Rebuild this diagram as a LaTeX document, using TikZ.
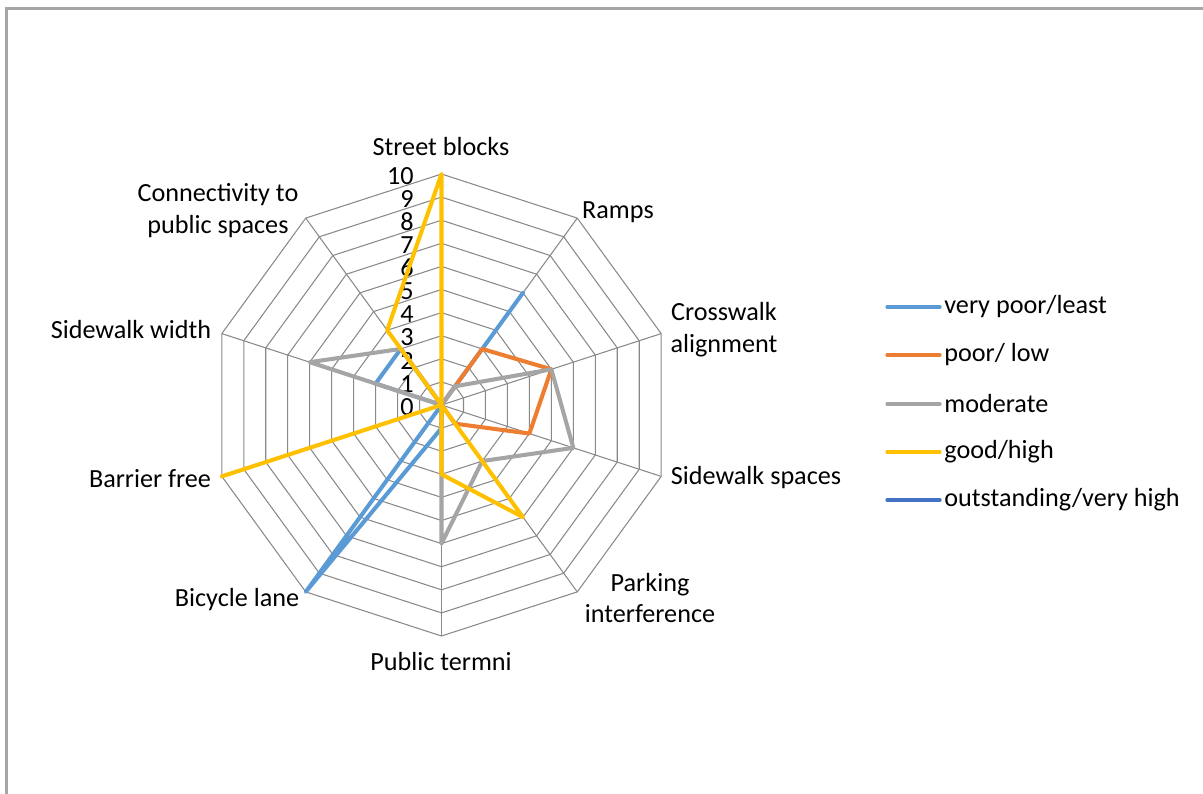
\documentclass[tikz,border=0pt]{standalone}
\usepackage{fontspec}
\setmainfont{Carlito}
\usepackage{xcolor}
\usepackage{tikz}
\usetikzlibrary{calc}
\definecolor{gridgray}{HTML}{898989}
\definecolor{framegray}{HTML}{A6A6A6}
\definecolor{vpoor}{HTML}{5B9BD5}
\definecolor{poor}{HTML}{ED7D31}
\definecolor{moderate}{HTML}{A5A5A5}
\definecolor{good}{HTML}{FFC000}
\definecolor{outstanding}{HTML}{4472C4}
\tikzset{
  gridline/.style={draw=gridgray, line width=0.6pt},
  series/.style={line width=2.3pt, line join=round, line cap=round},
  legline/.style={line width=1.8pt, line cap=round},
  lab/.style={font=\fontsize{14.9}{18.2}\selectfont, align=center, inner sep=0pt},
  tick/.style={font=\fontsize{14.9}{18.2}\selectfont, anchor=east, inner sep=0pt,
    text height=9.4pt, text depth=0pt},
  legtext/.style={font=\fontsize{14.9}{18.2}\selectfont, anchor=west, inner sep=0pt},
}

\begin{document}
\begin{tikzpicture}[x=0.02cm, y=-0.02cm]
\fill[white] (0,0) rectangle (1203,794);
\useasboundingbox (0,0) rectangle (1203,794);
\draw[framegray, line width=1.2pt] (6.5,794) -- (6.5,8.5) -- (1203,8.5);

% spokes and rings
\coordinate (c) at (441.5,405);
\foreach \i in {0,...,9}
  \coordinate (a\i) at ($(c)+(36*\i-90:231)$);
\foreach \i in {0,...,9}
  \draw[gridline] (c) -- (a\i);
\foreach \r in {1,...,10}
  \draw[gridline] ($(c)!\r/10!(a0)$) \foreach \i in {1,...,9}{ -- ($(c)!\r/10!(a\i)$) } -- cycle;

% scale
\foreach \k in {0,...,10}
  \node[tick] (t\k) at ($(414,407)+(0,-23.1*\k)$) {\k};

% axis labels
\node[lab] (sb)  at (441,147) {Street blocks};
\node[lab] (rmp) at (618,212) {Ramps};
\node[lab] (cwa) at (724,330) {Crosswalk\\alignment};
\node[lab] (sws) at (756,478) {Sidewalk spaces};
\node[lab] (pki) at (650,598) {Parking\\interference};
\node[lab] (ptr) at (441,661) {Public termni};
\node[lab] (bcl) at (237,600) {Bicycle lane};
\node[lab] (bfr) at (150,479) {Barrier free};
\node[lab] (swd) at (131,330) {Sidewalk width};
\node[lab] (cps) at (218,211) {Connectivity to\\public spaces};

% data
\draw[series, vpoor] ($(c)!0!(a0)$) -- ($(c)!.6!(a1)$) -- ($(c)!0!(a2)$) -- ($(c)!0!(a3)$) -- ($(c)!0!(a4)$)
  -- ($(c)!.1!(a5)$) -- ($(c)!1!(a6)$) -- ($(c)!0!(a7)$) -- ($(c)!.3!(a8)$) -- ($(c)!.3!(a9)$) -- cycle;
\draw[series, poor] ($(c)!0!(a0)$) -- ($(c)!.3!(a1)$) -- ($(c)!.5!(a2)$) -- ($(c)!.4!(a3)$) -- ($(c)!.1!(a4)$)
  -- ($(c)!0!(a5)$) -- ($(c)!0!(a6)$) -- ($(c)!0!(a7)$) -- ($(c)!0!(a8)$) -- ($(c)!0!(a9)$) -- cycle;
\draw[series, moderate] ($(c)!0!(a0)$) -- ($(c)!.1!(a1)$) -- ($(c)!.5!(a2)$) -- ($(c)!.6!(a3)$) -- ($(c)!.3!(a4)$)
  -- ($(c)!.6!(a5)$) -- ($(c)!0!(a6)$) -- ($(c)!0!(a7)$) -- ($(c)!.6!(a8)$) -- ($(c)!.3!(a9)$) -- cycle;
\draw[series, good] ($(c)!1!(a0)$) -- ($(c)!0!(a1)$) -- ($(c)!0!(a2)$) -- ($(c)!0!(a3)$) -- ($(c)!.6!(a4)$)
  -- ($(c)!.3!(a5)$) -- ($(c)!0!(a6)$) -- ($(c)!1!(a7)$) -- ($(c)!0!(a8)$) -- ($(c)!.4!(a9)$) -- cycle;

% legend
\coordinate (k1) at (887,307);
\coordinate (k2) at (887,355);
\coordinate (k3) at (887,404);
\coordinate (k4) at (887,452);
\coordinate (k5) at (887,500);
\node[legtext] (lg1) at (944,307) {very poor/least};
\node[legtext] (lg2) at (944,355) {poor/ low};
\node[legtext] (lg3) at (944,404) {moderate};
\node[legtext] (lg4) at (944,452) {good/high};
\node[legtext] (lg5) at (944,500) {outstanding/very high};
\draw[legline, vpoor] (k1) -- ($(lg1.west)+(-4,0)$);
\draw[legline, poor] (k2) -- ($(lg2.west)+(-4,0)$);
\draw[legline, moderate] (k3) -- ($(lg3.west)+(-4,0)$);
\draw[legline, good] (k4) -- ($(lg4.west)+(-4,0)$);
\draw[legline, outstanding] (k5) -- ($(lg5.west)+(-4,0)$);
\end{tikzpicture}
\end{document}
